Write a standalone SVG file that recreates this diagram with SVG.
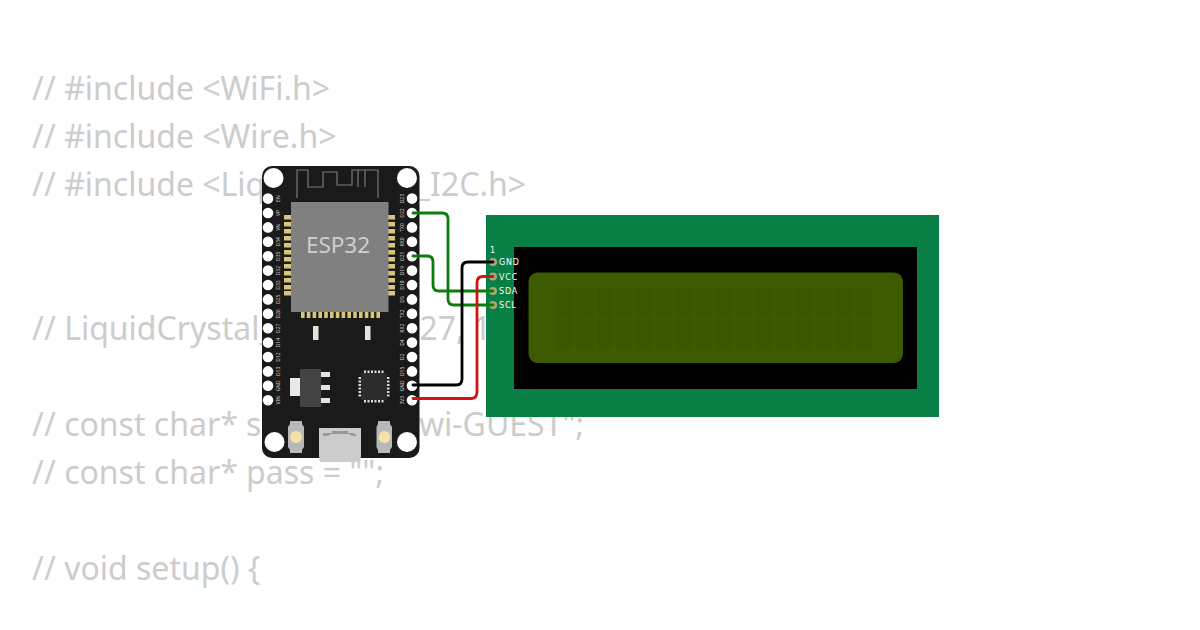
<svg xmlns="http://www.w3.org/2000/svg" width="1200" height="630" viewBox="0 0 1200 630">
<style>
.code{font:32px "Noto Sans","Open Sans",sans-serif;font-kerning:none;fill:#ccc}
.pl{font:5px "Noto Sans","DejaVu Sans",sans-serif;fill:#ccc;text-anchor:middle}
.ll{font:8px "DejaVu Sans",sans-serif;fill:#fff;letter-spacing:.8px}
.hole{fill:#fff}
.pad{fill:#d6c878}
.w{fill:none;stroke-width:2.800;stroke-linecap:round;stroke-linejoin:round}
.cell{fill:#3a5800}
.ic{fill:#ddd}
</style>
<rect width="1200" height="630" fill="#fff"/>
<g id="code">
<text class="code" x="32" y="100">// #include &lt;WiFi.h&gt;</text>
<text class="code" x="32" y="148">// #include &lt;Wire.h&gt;</text>
<text class="code" x="32" y="196">// #include &lt;LiquidCrystal_I2C.h&gt;</text>
<text class="code" x="32" y="340">// LiquidCrystal_I2C lcd(0x27, 16, 2);</text>
<text class="code" x="32" y="436">// const char* ssid = "Wokwi-GUEST";</text>
<text class="code" x="32" y="484">// const char* pass = "";</text>
<text class="code" x="32" y="580">// void setup() {</text>
</g>
<g id="esp32">
<rect x="262" y="166" width="157.500" height="292" rx="10" fill="#1a1a1a"/>
<circle class="hole" cx="273.500" cy="178" r="10"/><circle class="hole" cx="407" cy="178" r="10"/>
<circle class="hole" cx="274.500" cy="442" r="10"/><circle class="hole" cx="407" cy="442" r="10"/>
<path d="M297 198V170H308V187H323V172H337V185H352V170H378V198M358 170V187M365 170V187" fill="none" stroke="#7a7a7a" stroke-width="1.200"/>
<g class="pad">
<rect x="284" y="215" width="7" height="4.500"/><rect x="284" y="222" width="7" height="4.500"/><rect x="284" y="229" width="7" height="4.500"/><rect x="284" y="236" width="7" height="4.500"/><rect x="284" y="243" width="7" height="4.500"/><rect x="284" y="250" width="7" height="4.500"/><rect x="284" y="257" width="7" height="4.500"/><rect x="284" y="264" width="7" height="4.500"/><rect x="284" y="271" width="7" height="4.500"/><rect x="284" y="278" width="7" height="4.500"/><rect x="284" y="285" width="7" height="4.500"/><rect x="284" y="291" width="7" height="4.500"/>
<rect x="388" y="215" width="7" height="4.500"/><rect x="388" y="222" width="7" height="4.500"/><rect x="388" y="229" width="7" height="4.500"/><rect x="388" y="236" width="7" height="4.500"/><rect x="388" y="243" width="7" height="4.500"/><rect x="388" y="250" width="7" height="4.500"/><rect x="388" y="257" width="7" height="4.500"/><rect x="388" y="264" width="7" height="4.500"/><rect x="388" y="271" width="7" height="4.500"/><rect x="388" y="278" width="7" height="4.500"/><rect x="388" y="285" width="7" height="4.500"/><rect x="388" y="291" width="7" height="4.500"/>
<rect x="301" y="311" width="3.600" height="7"/><rect x="306.800" y="311" width="3.600" height="7"/><rect x="312.600" y="311" width="3.600" height="7"/><rect x="318.400" y="311" width="3.600" height="7"/><rect x="324.200" y="311" width="3.600" height="7"/><rect x="330" y="311" width="3.600" height="7"/><rect x="335.800" y="311" width="3.600" height="7"/><rect x="341.600" y="311" width="3.600" height="7"/><rect x="347.400" y="311" width="3.600" height="7"/><rect x="353.200" y="311" width="3.600" height="7"/><rect x="359" y="311" width="3.600" height="7"/><rect x="364.800" y="311" width="3.600" height="7"/><rect x="370.600" y="311" width="3.600" height="7"/><rect x="376.400" y="311" width="3.600" height="7"/>
</g>
<rect x="291" y="202" width="97.500" height="110" fill="#808080"/>
<text x="338" y="253" font-family="'Noto Sans',sans-serif" font-size="22.500" fill="#cfcfcf" text-anchor="middle">ESP32</text>
<g class="hole">
<circle cx="268" cy="198.600" r="5.300"/><circle cx="268" cy="213" r="5.300"/><circle cx="268" cy="227.400" r="5.300"/><circle cx="268" cy="241.800" r="5.300"/><circle cx="268" cy="256.200" r="5.300"/><circle cx="268" cy="270.600" r="5.300"/><circle cx="268" cy="285" r="5.300"/><circle cx="268" cy="299.400" r="5.300"/><circle cx="268" cy="313.800" r="5.300"/><circle cx="268" cy="328.200" r="5.300"/><circle cx="268" cy="342.600" r="5.300"/><circle cx="268" cy="357" r="5.300"/><circle cx="268" cy="371.400" r="5.300"/><circle cx="268" cy="385.800" r="5.300"/><circle cx="268" cy="400.200" r="5.300"/>
<circle cx="412" cy="198.600" r="5.300"/><circle cx="412" cy="213" r="5.300"/><circle cx="412" cy="227.400" r="5.300"/><circle cx="412" cy="241.800" r="5.300"/><circle cx="412" cy="256.200" r="5.300"/><circle cx="412" cy="270.600" r="5.300"/><circle cx="412" cy="285" r="5.300"/><circle cx="412" cy="299.400" r="5.300"/><circle cx="412" cy="313.800" r="5.300"/><circle cx="412" cy="328.200" r="5.300"/><circle cx="412" cy="342.600" r="5.300"/><circle cx="412" cy="357" r="5.300"/><circle cx="412" cy="371.400" r="5.300"/><circle cx="412" cy="385.800" r="5.300"/><circle cx="412" cy="400.200" r="5.300"/>
</g>
<g class="pl">
<text transform="translate(278 198.600) rotate(-90)" y="1.800">EN</text><text transform="translate(278 213) rotate(-90)" y="1.800">VP</text><text transform="translate(278 227.400) rotate(-90)" y="1.800">VN</text><text transform="translate(278 241.800) rotate(-90)" y="1.800">D34</text><text transform="translate(278 256.200) rotate(-90)" y="1.800">D35</text><text transform="translate(278 270.600) rotate(-90)" y="1.800">D32</text><text transform="translate(278 285) rotate(-90)" y="1.800">D33</text><text transform="translate(278 299.400) rotate(-90)" y="1.800">D25</text><text transform="translate(278 313.800) rotate(-90)" y="1.800">D26</text><text transform="translate(278 328.200) rotate(-90)" y="1.800">D27</text><text transform="translate(278 342.600) rotate(-90)" y="1.800">D14</text><text transform="translate(278 357) rotate(-90)" y="1.800">D12</text><text transform="translate(278 371.400) rotate(-90)" y="1.800">D13</text><text transform="translate(278 385.800) rotate(-90)" y="1.800">GND</text><text transform="translate(278 400.200) rotate(-90)" y="1.800">VIN</text>
<text transform="translate(402.500 198.600) rotate(-90)" y="1.800">D23</text><text transform="translate(402.500 213) rotate(-90)" y="1.800">D22</text><text transform="translate(402.500 227.400) rotate(-90)" y="1.800">TX0</text><text transform="translate(402.500 241.800) rotate(-90)" y="1.800">RX0</text><text transform="translate(402.500 256.200) rotate(-90)" y="1.800">D21</text><text transform="translate(402.500 270.600) rotate(-90)" y="1.800">D19</text><text transform="translate(402.500 285) rotate(-90)" y="1.800">D18</text><text transform="translate(402.500 299.400) rotate(-90)" y="1.800">D5</text><text transform="translate(402.500 313.800) rotate(-90)" y="1.800">TX2</text><text transform="translate(402.500 328.200) rotate(-90)" y="1.800">RX2</text><text transform="translate(402.500 342.600) rotate(-90)" y="1.800">D4</text><text transform="translate(402.500 357) rotate(-90)" y="1.800">D2</text><text transform="translate(402.500 371.400) rotate(-90)" y="1.800">D15</text><text transform="translate(402.500 385.800) rotate(-90)" y="1.800">GND</text><text transform="translate(402.500 400.200) rotate(-90)" y="1.800">3V3</text>
</g>
<rect x="313" y="326" width="5.500" height="14" fill="#e6e2d6"/><rect x="365" y="326" width="5.500" height="14" fill="#e6e2d6"/>
<rect x="300" y="369" width="21" height="38" fill="#444"/><rect x="290" y="378" width="10" height="18" fill="#e8e8e8"/>
<rect x="321" y="372" width="9" height="5" fill="#e2e2e2"/><rect x="321" y="385" width="9" height="5" fill="#e2e2e2"/><rect x="321" y="398" width="9" height="5" fill="#e2e2e2"/>
<rect x="361" y="373" width="26" height="27" rx="1" fill="#2c2c2c"/>
<g class="ic">
<rect x="364" y="370.500" width="2" height="2.500"/><rect x="367.500" y="370.500" width="2" height="2.500"/><rect x="371" y="370.500" width="2" height="2.500"/><rect x="374.500" y="370.500" width="2" height="2.500"/><rect x="378" y="370.500" width="2" height="2.500"/><rect x="381.500" y="370.500" width="2" height="2.500"/>
<rect x="364" y="400" width="2" height="2.500"/><rect x="367.500" y="400" width="2" height="2.500"/><rect x="371" y="400" width="2" height="2.500"/><rect x="374.500" y="400" width="2" height="2.500"/><rect x="378" y="400" width="2" height="2.500"/><rect x="381.500" y="400" width="2" height="2.500"/>
<rect x="358.500" y="377" width="2.500" height="2"/><rect x="358.500" y="380.500" width="2.500" height="2"/><rect x="358.500" y="384" width="2.500" height="2"/><rect x="358.500" y="387.500" width="2.500" height="2"/><rect x="358.500" y="391" width="2.500" height="2"/><rect x="358.500" y="394.500" width="2.500" height="2"/>
<rect x="387" y="377" width="2.500" height="2"/><rect x="387" y="380.500" width="2.500" height="2"/><rect x="387" y="384" width="2.500" height="2"/><rect x="387" y="387.500" width="2.500" height="2"/><rect x="387" y="391" width="2.500" height="2"/><rect x="387" y="394.500" width="2.500" height="2"/>
</g>
<path d="M290 421H302V424L304 427V447L302 450V453H290V450L288 447V427L290 424Z" fill="#b8b8b8"/><circle cx="296" cy="437" r="6" fill="#f6e2a8"/>
<path d="M378 421H390V424L392 427V447L390 450V453H378V450L376.500 447V427L378 424Z" fill="#b8b8b8"/><circle cx="384.500" cy="437" r="6" fill="#f6e2a8"/>
<path d="M319 428H361V456L360 462H320L319 456Z" fill="#ccc"/>
<path d="M323 436V433H332V431H348V433H354L357 436H352L349 434H331L328 436Z" fill="#999"/>
</g>
<g id="lcd">
<rect x="486" y="215" width="453" height="202" fill="#087f45"/>
<rect x="514" y="247" width="403" height="142" fill="#000"/>
<rect x="528.500" y="272.500" width="374.500" height="90.500" rx="9" fill="#3d5b00"/>
<g class="cell">
<rect x="557" y="287" width="16" height="30"/><rect x="577" y="287" width="16" height="30"/><rect x="597" y="287" width="16" height="30"/><rect x="616" y="287" width="16" height="30"/><rect x="636" y="287" width="16" height="30"/><rect x="656" y="287" width="16" height="30"/><rect x="676" y="287" width="16" height="30"/><rect x="696" y="287" width="16" height="30"/><rect x="716" y="287" width="16" height="30"/><rect x="736" y="287" width="16" height="30"/><rect x="756" y="287" width="16" height="30"/><rect x="776" y="287" width="16" height="30"/><rect x="796" y="287" width="16" height="30"/><rect x="816" y="287" width="16" height="30"/><rect x="836" y="287" width="16" height="30"/><rect x="856" y="287" width="16" height="30"/>
<rect x="557" y="319" width="16" height="30"/><rect x="577" y="319" width="16" height="30"/><rect x="597" y="319" width="16" height="30"/><rect x="616" y="319" width="16" height="30"/><rect x="636" y="319" width="16" height="30"/><rect x="656" y="319" width="16" height="30"/><rect x="676" y="319" width="16" height="30"/><rect x="696" y="319" width="16" height="30"/><rect x="716" y="319" width="16" height="30"/><rect x="736" y="319" width="16" height="30"/><rect x="756" y="319" width="16" height="30"/><rect x="776" y="319" width="16" height="30"/><rect x="796" y="319" width="16" height="30"/><rect x="816" y="319" width="16" height="30"/><rect x="836" y="319" width="16" height="30"/><rect x="856" y="319" width="16" height="30"/>
</g>
<g fill="#a8a87c"><circle cx="493" cy="262" r="4"/><circle cx="493" cy="276.500" r="4"/><circle cx="493" cy="291" r="4"/><circle cx="493" cy="305" r="4"/></g>
<text class="ll" x="490" y="252.500">1</text>
<text class="ll" x="499" y="265">GND</text><text class="ll" x="499" y="279.500">VCC</text><text class="ll" x="499" y="294">SDA</text><text class="ll" x="499" y="308">SCL</text>
</g>
<g id="connectors">
<path class="w" stroke="#0a7d0a" d="M413 213H442Q448 213 448 219V299Q448 305 454 305H493"/>
<path class="w" stroke="#0a7d0a" d="M413 256H427Q433 256 433 262V285Q433 291 439 291H493"/>
<path class="w" stroke="#000" d="M493 262H468Q462 262 462 268V379Q462 385 456 385H413"/>
<path class="w" stroke="#d01515" d="M493 276.500H483Q477 276.500 477 282.500V392Q477 398.500 471 398.500H413"/>
</g>
</svg>
